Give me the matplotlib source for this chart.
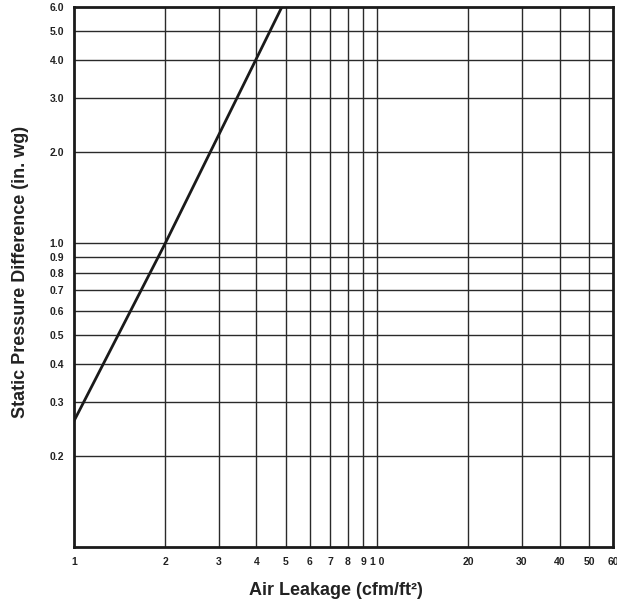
import numpy as np
import matplotlib
import matplotlib.pyplot as plt

matplotlib.rcParams['font.family'] = 'Liberation Sans'

# data
leakage = [1.0, 2.0, 4.85]       # cfm/ft2
pressure = [0.26, 1.0, 6.0]      # in. wg

x_ticks = [1, 2, 3, 4, 5, 6, 7, 8, 9, 10, 20, 30, 40, 50, 60]
x_labels = ['1', '2', '3', '4', '5', '6', '7', '8', '9', '1 0', '20', '30', '40', '50', '60']
y_ticks = [0.2, 0.3, 0.4, 0.5, 0.6, 0.7, 0.8, 0.9, 1.0, 2.0, 3.0, 4.0, 5.0, 6.0]
y_labels = ['%.1f' % v for v in y_ticks]

fig = plt.figure(figsize=(6.17, 6.04), dpi=100)
ax = fig.add_axes([74 / 617, 1 - 547 / 604, (613 - 74) / 617, (547 - 7) / 604])

ax.set_xscale('log')
ax.set_yscale('log')
ax.set_xlim(1, 60)
ax.set_ylim(0.1, 6.0)

# grid at the labelled values
for xv in x_ticks[1:-1]:
    ax.axvline(xv, color='#2a2a2a', lw=1.0, zorder=1)
for yv in y_ticks[:-1]:
    ax.axhline(yv, color='#2a2a2a', lw=1.0, zorder=1)

ax.plot(leakage, pressure, color='#1a1a1a', lw=2.0, zorder=3)

ax.xaxis.set_minor_locator(matplotlib.ticker.NullLocator())
ax.yaxis.set_minor_locator(matplotlib.ticker.NullLocator())
ax.set_xticks(x_ticks)
ax.set_xticklabels(x_labels)
ax.set_yticks(y_ticks)
ax.set_yticklabels(y_labels)
ax.tick_params(length=0, labelsize=7.5, colors='#222222', pad=7)
for lbl in ax.get_xticklabels() + ax.get_yticklabels():
    lbl.set_fontweight('bold')

for s in ax.spines.values():
    s.set_linewidth(2.0)
    s.set_color('#1a1a1a')

ax.set_xlabel('Air Leakage (cfm/ft²)', fontsize=13, fontweight='bold', color='#222222')
ax.xaxis.set_label_coords((336 - 74) / 539, -(582 - 547) / 540)
ax.set_ylabel('Static Pressure Difference (in. wg)', fontsize=13, fontweight='bold', color='#222222')
ax.yaxis.set_label_coords(-(74 - 29) / 539, (547 - 272) / 540)

fig.savefig('out.png', dpi=100)
